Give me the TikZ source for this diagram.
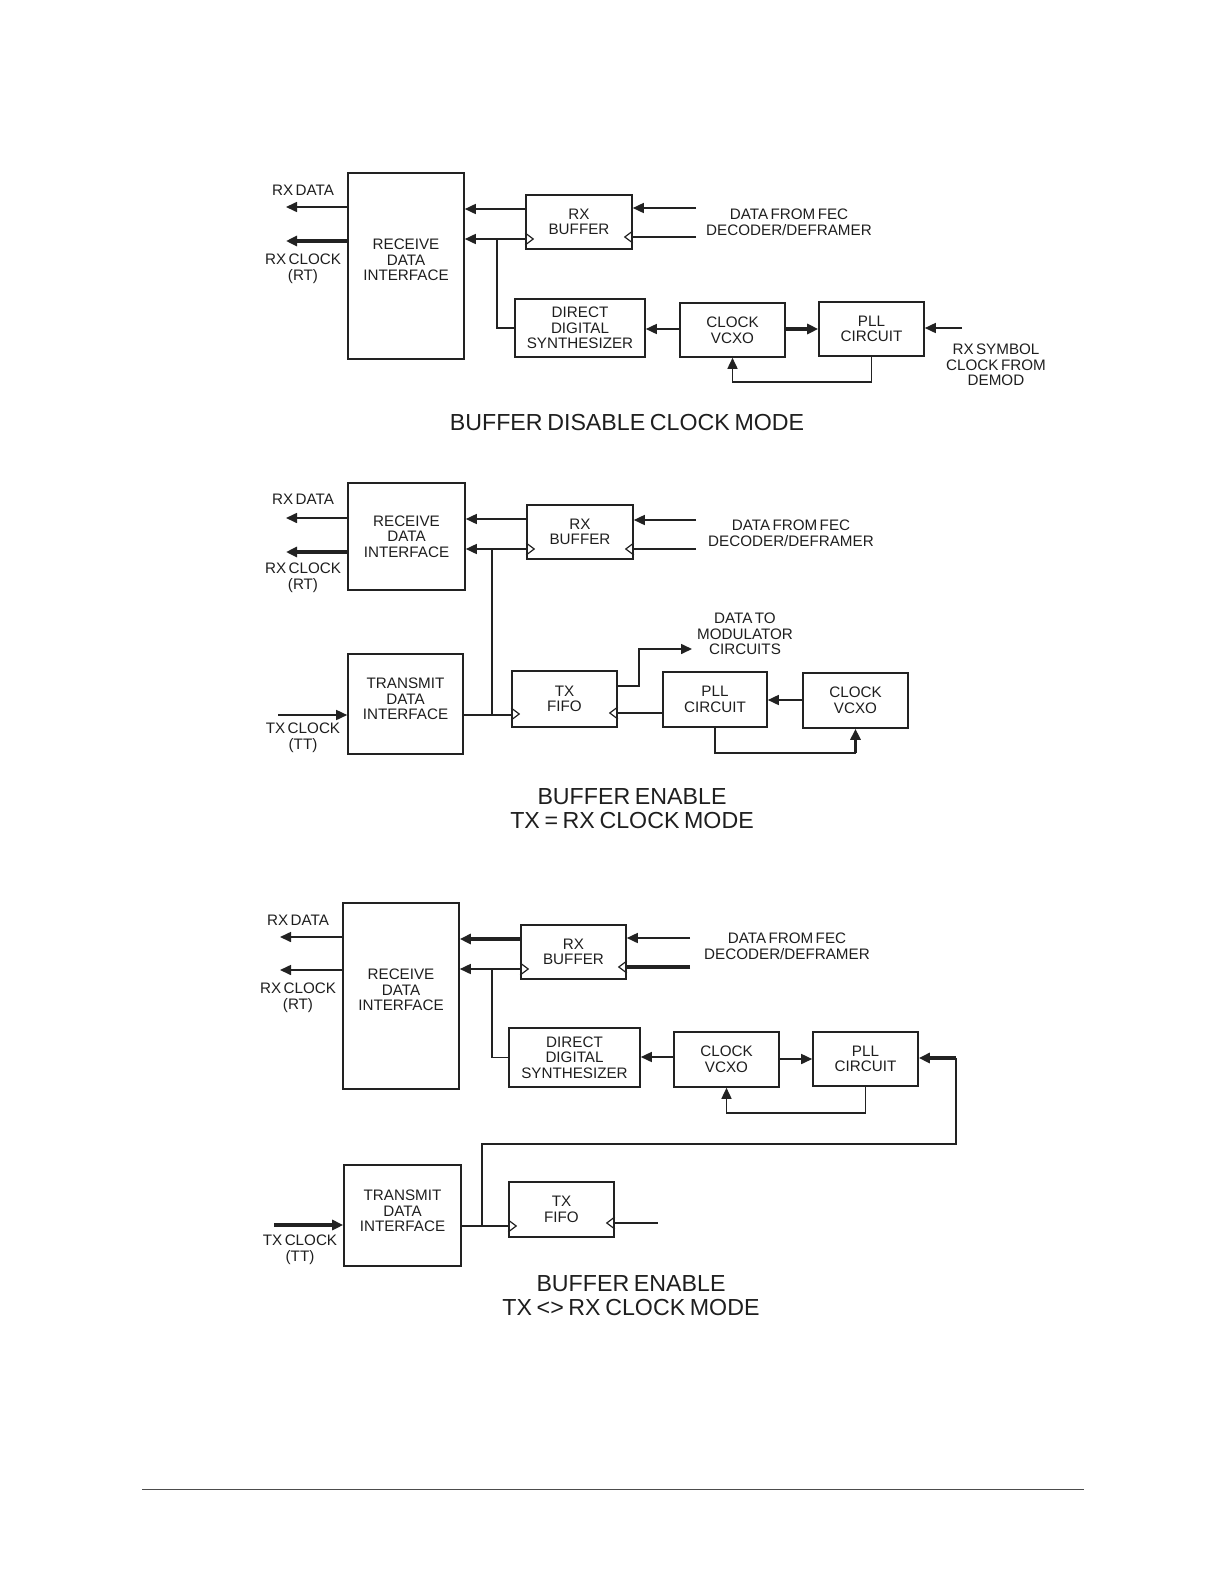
\documentclass[tikz,border=0pt]{standalone}
\usepackage{fontspec}
\setmainfont{Liberation Sans}
\usetikzlibrary{arrows.meta}
\definecolor{lc}{HTML}{222222}
\definecolor{tc}{HTML}{1E1E1E}
\newcommand\labfont{\fontsize{7.6}{7.8}\selectfont\spaceskip=0.16em plus 0.05em\relax}
\newcommand\ttlfont{\fontsize{11.6}{12.0}\selectfont\spaceskip=0.2em plus 0.05em\relax}
\begin{document}
\begin{tikzpicture}[x=0.5pt,y=-0.5pt,
  blk/.style={draw=lc,line width=0.8pt,inner sep=0pt,font=\labfont,text=tc,align=center},
  txt/.style={inner sep=0pt,font=\labfont,text=tc,align=center},
  ttl/.style={inner sep=0pt,font=\ttlfont,text=tc,align=center},
  ln/.style={draw=lc,line width=0.8pt},
  thk/.style={draw=lc,line width=1.6pt},
  arr/.style={ln,-{Triangle[length=5.5pt,width=5pt]}},
  tarr/.style={thk,-{Triangle[length=5.5pt,width=5pt]}},
  clk/.style={draw=lc,line width=0.6pt,line join=miter}]
\useasboundingbox (0,0) rectangle (1224,1584);

% ================= Diagram 1 =================
\node[blk,minimum width=58pt,minimum height=93pt,
  label={[txt,yshift=3pt]center:RECEIVE\\DATA\\INTERFACE}] (rdi1) at (406,266) {};
\node[blk,minimum width=53pt,minimum height=27pt] (rxbuf1) at (579,222) {RX\\BUFFER};
\node[blk,minimum width=65pt,minimum height=29pt] (dds1) at (580,328) {DIRECT\\DIGITAL\\SYNTHESIZER};
\node[blk,minimum width=52.5pt,minimum height=27pt] (vcxo1) at (732.5,330) {CLOCK\\VCXO};
\node[blk,minimum width=52.5pt,minimum height=27pt] (pll1) at (871.5,329) {PLL\\CIRCUIT};
\node[txt] (rxdl1) at (303,190) {RX DATA};
\node[txt] (rxcl1) at (303,268.5) {RX CLOCK\\(RT)};
\node[txt] (fecl1) at (789,222) {DATA FROM FEC\\DECODER/DEFRAMER};
\node[txt] (syml1) at (996,365) {RX SYMBOL\\CLOCK FROM\\DEMOD};
\node[ttl] (title1) at (627,423) {BUFFER DISABLE CLOCK MODE};

\coordinate (rxd1) at (286,207);
\coordinate (rxc1) at (286,241);
\draw[arr] (rdi1.west |- rxd1) -- (rxd1);
\draw[tarr] (rdi1.west |- rxc1) -- (rxc1);
\draw[arr] (rxbuf1.west |- 0,209) -- (rdi1.east |- 0,209);
\draw[arr] (rxbuf1.west |- 0,239) -- (rdi1.east |- 0,239);
\coordinate (fec1a) at (696,208);
\coordinate (fec1b) at (696,237);
\draw[arr] (fec1a) -- (rxbuf1.east |- fec1a);
\draw[ln] (fec1b) -- (rxbuf1.east |- fec1b);
\draw[clk] (rxbuf1.west |- 0,233) -- ++(8,6) -- ++(-8,6);
\draw[clk] (rxbuf1.east |- 0,231) -- ++(-8,6) -- ++(8,6);
\coordinate (j1) at (497,239);
\draw[ln] (j1) |- (dds1.west);
\draw[arr] (vcxo1.west |- 0,329) -- (dds1.east |- 0,329);
\draw[tarr] (vcxo1.east |- 0,329) -- (pll1.west |- 0,329);
\coordinate (sym1) at (962,328);
\draw[arr] (sym1) -- (pll1.east |- sym1);
\draw[arr] (pll1.south) -- ++(0,25) -| (vcxo1.south);

% ================= Diagram 2 =================
\node[blk,minimum width=58.5pt,minimum height=53.5pt] (rdi2) at (406.5,536.5) {RECEIVE\\DATA\\INTERFACE};
\node[blk,minimum width=53pt,minimum height=27pt] (rxbuf2) at (580,532) {RX\\BUFFER};
\node[blk,minimum width=57.5pt,minimum height=50pt,
  label={[txt,yshift=2.5pt]center:TRANSMIT\\DATA\\INTERFACE}] (tdi2) at (405.5,704) {};
\node[blk,minimum width=52.5pt,minimum height=28pt] (fifo2) at (564.5,699) {TX\\FIFO};
\node[blk,minimum width=52pt,minimum height=27.5pt] (pll2) at (715,699.5) {PLL\\CIRCUIT};
\node[blk,minimum width=52.5pt,minimum height=27.5pt] (vcxo2) at (855.5,700.5) {CLOCK\\VCXO};
\node[txt] (rxdl2) at (303,499) {RX DATA};
\node[txt] (rxcl2) at (303,578) {RX CLOCK\\(RT)};
\node[txt] (fecl2) at (791,533.5) {DATA FROM FEC\\DECODER/DEFRAMER};
\node[txt] (txcl2) at (303,738) {TX CLOCK\\(TT)};
\node[txt] (modl2) at (745,634) {DATA TO\\MODULATOR\\CIRCUITS};
\node[ttl] (title2) at (632,809) {BUFFER ENABLE\\TX = RX CLOCK MODE};

\coordinate (rxd2) at (286,518);
\coordinate (rxc2) at (286,552);
\draw[arr] (rdi2.west |- rxd2) -- (rxd2);
\draw[tarr] (rdi2.west |- rxc2) -- (rxc2);
\draw[arr] (rxbuf2.west |- 0,519) -- (rdi2.east |- 0,519);
\draw[arr] (rxbuf2.west |- 0,549) -- (rdi2.east |- 0,549);
\coordinate (fec2a) at (696,520);
\coordinate (fec2b) at (696,549);
\draw[arr] (fec2a) -- (rxbuf2.east |- fec2a);
\draw[ln] (fec2b) -- (rxbuf2.east |- fec2b);
\draw[clk] (rxbuf2.west |- 0,543) -- ++(8,6) -- ++(-8,6);
\draw[clk] (rxbuf2.east |- 0,543) -- ++(-8,6) -- ++(8,6);
\coordinate (j2) at (492,549);
\coordinate (j2b) at (492,715);
\draw[ln] (j2) -- (j2b);
\draw[ln] (tdi2.east |- j2b) -- (fifo2.west |- j2b);
\coordinate (txc2) at (278,715);
\draw[arr] (txc2) -- (tdi2.west |- txc2);
\draw[clk] (fifo2.west |- 0,708) -- ++(8,6) -- ++(-8,6);
\draw[clk] (fifo2.east |- 0,707) -- ++(-8,6) -- ++(8,6);
\coordinate (mod2) at (692,649);
\draw[arr] (fifo2.east |- 0,686) -| (639,649) -- (mod2);
\draw[ln] (pll2.west |- 0,713) -- (fifo2.east |- 0,713);
\draw[arr] (vcxo2.west |- 0,700) -- (pll2.east |- 0,700);
\coordinate (fb2) at (855.5,753);
\draw[ln] (pll2.south) |- (fb2);
\draw[tarr] (fb2) -- (vcxo2.south);

% ================= Diagram 3 =================
\node[blk,minimum width=58pt,minimum height=93pt,
  label={[txt,yshift=3pt]center:RECEIVE\\DATA\\INTERFACE}] (rdi3) at (401,996) {};
\node[blk,minimum width=52.5pt,minimum height=27pt] (rxbuf3) at (573.5,952) {RX\\BUFFER};
\node[blk,minimum width=65.5pt,minimum height=29.5pt] (dds3) at (574.5,1057.5) {DIRECT\\DIGITAL\\SYNTHESIZER};
\node[blk,minimum width=52.5pt,minimum height=27.5pt] (vcxo3) at (726.5,1059.5) {CLOCK\\VCXO};
\node[blk,minimum width=52.5pt,minimum height=27pt] (pll3) at (865.5,1059) {PLL\\CIRCUIT};
\node[blk,minimum width=58.5pt,minimum height=50.5pt,
  label={[txt,yshift=2.2pt]center:TRANSMIT\\DATA\\INTERFACE}] (tdi3) at (402.5,1215.5) {};
\node[blk,minimum width=52.5pt,minimum height=27.5pt] (fifo3) at (561.5,1209.5) {TX\\FIFO};
\node[txt] (rxdl3) at (298,920) {RX DATA};
\node[txt] (rxcl3) at (298,998) {RX CLOCK\\(RT)};
\node[txt] (fecl3) at (787,946.5) {DATA FROM FEC\\DECODER/DEFRAMER};
\node[txt] (txcl3) at (300,1249.5) {TX CLOCK\\(TT)};
\node[ttl] (title3) at (631,1296) {BUFFER ENABLE\\TX <> RX CLOCK MODE};

\coordinate (rxd3) at (280,937);
\coordinate (rxc3) at (280,970);
\draw[arr] (rdi3.west |- rxd3) -- (rxd3);
\draw[arr] (rdi3.west |- rxc3) -- (rxc3);
\draw[tarr] (rxbuf3.west |- 0,939) -- (rdi3.east |- 0,939);
\draw[arr] (rxbuf3.west |- 0,969) -- (rdi3.east |- 0,969);
\coordinate (fec3a) at (690,938);
\coordinate (fec3b) at (690,967);
\draw[arr] (fec3a) -- (rxbuf3.east |- fec3a);
\draw[thk] (fec3b) -- (rxbuf3.east |- fec3b);
\draw[clk] (rxbuf3.west |- 0,963) -- ++(8,6) -- ++(-8,6);
\draw[clk] (rxbuf3.east |- 0,961) -- ++(-8,6) -- ++(8,6);
\coordinate (j3) at (492,969);
\draw[ln] (j3) |- (dds3.west);
\draw[arr] (vcxo3.west |- 0,1057) -- (dds3.east |- 0,1057);
\draw[arr] (vcxo3.east |- 0,1059) -- (pll3.west |- 0,1059);
\draw[arr] (pll3.south) -- ++(0,26) -| (vcxo3.south);
\coordinate (txc3) at (274,1225);
\draw[tarr] (txc3) -- (tdi3.west |- txc3);
\coordinate (j4) at (482,1226);
\draw[ln] (tdi3.east |- j4) -- (fifo3.west |- j4);
\coordinate (c3) at (956,1058);
\draw[ln] (j4) |- (956,1144) -- (c3);
\draw[tarr] (c3) -- (pll3.east |- c3);
\draw[clk] (fifo3.west |- 0,1220) -- ++(8,6) -- ++(-8,6);
\draw[clk] (fifo3.east |- 0,1217) -- ++(-8,6) -- ++(8,6);
\coordinate (fo3) at (658,1223);
\draw[ln] (fifo3.east |- fo3) -- (fo3);

% footer rule
\coordinate (fl) at (142,1489);
\coordinate (fr) at (1084,1489);
\draw[draw=black!70,line width=0.5pt] (fl) -- (fr);
\end{tikzpicture}
\end{document}
